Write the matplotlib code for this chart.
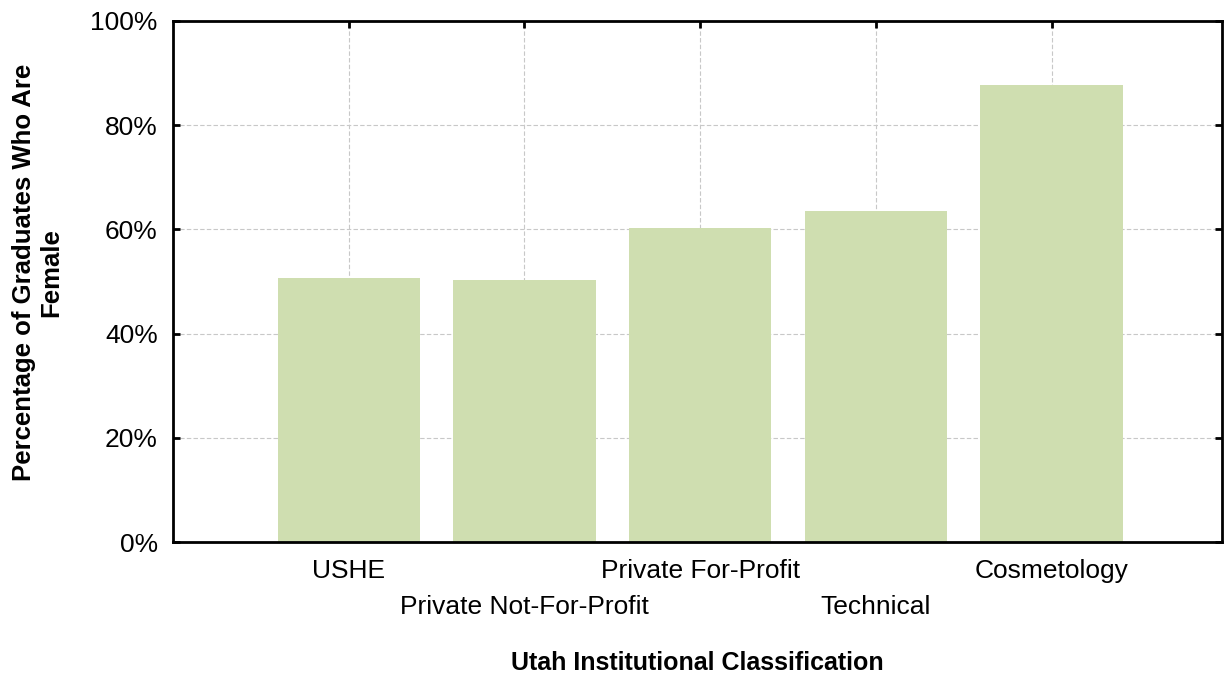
import matplotlib
matplotlib.use("Agg")
import matplotlib.pyplot as plt
from matplotlib.ticker import PercentFormatter

categories = ["USHE", "Private Not-For-Profit", "Private For-Profit", "Technical", "Cosmetology"]
female_pct = [50.7, 50.3, 60.3, 63.5, 87.7]

plt.rcParams['font.family'] = ['Liberation Sans', 'DejaVu Sans']

fig = plt.figure(figsize=(12.25, 6.74), dpi=100)
ax = fig.add_axes([173/1225, 1-542/674, (1222-173)/1225, (542-21)/674])

x = range(len(categories))
ax.bar(x, female_pct, width=0.81, color='#cfdeb0', zorder=2)

ax.set_xlim(-1, 4.97)
ax.set_ylim(0, 100)
ax.set_yticks([0, 20, 40, 60, 80, 100])
ax.yaxis.set_major_formatter(PercentFormatter(decimals=0))
ax.set_xticks(list(x))
ax.set_xticklabels(categories)

# staggered category labels
for i, lab in enumerate(ax.get_xticklabels()):
    if i % 2 == 1:
        lab.set_y(-0.069)

ax.grid(True, color='#c8c8c8', linestyle=(0, (4, 2)), linewidth=0.8, zorder=0)
for s in ax.spines.values():
    s.set_linewidth(2)
ax.tick_params(direction='in', length=5, width=2, top=True, right=True,
               labelsize=19, pad=12)
ax.tick_params(axis='y', pad=11)

ax.set_xlabel("Utah Institutional Classification", fontsize=18, fontweight='bold', labelpad=23)
ax.set_ylabel("Percentage of Graduates Who Are\nFemale", fontsize=18.5, fontweight='bold',
              va='center', ha='center')
ax.yaxis.set_label_coords(-0.129, 0.518)

fig.savefig("out.png", dpi=100)
